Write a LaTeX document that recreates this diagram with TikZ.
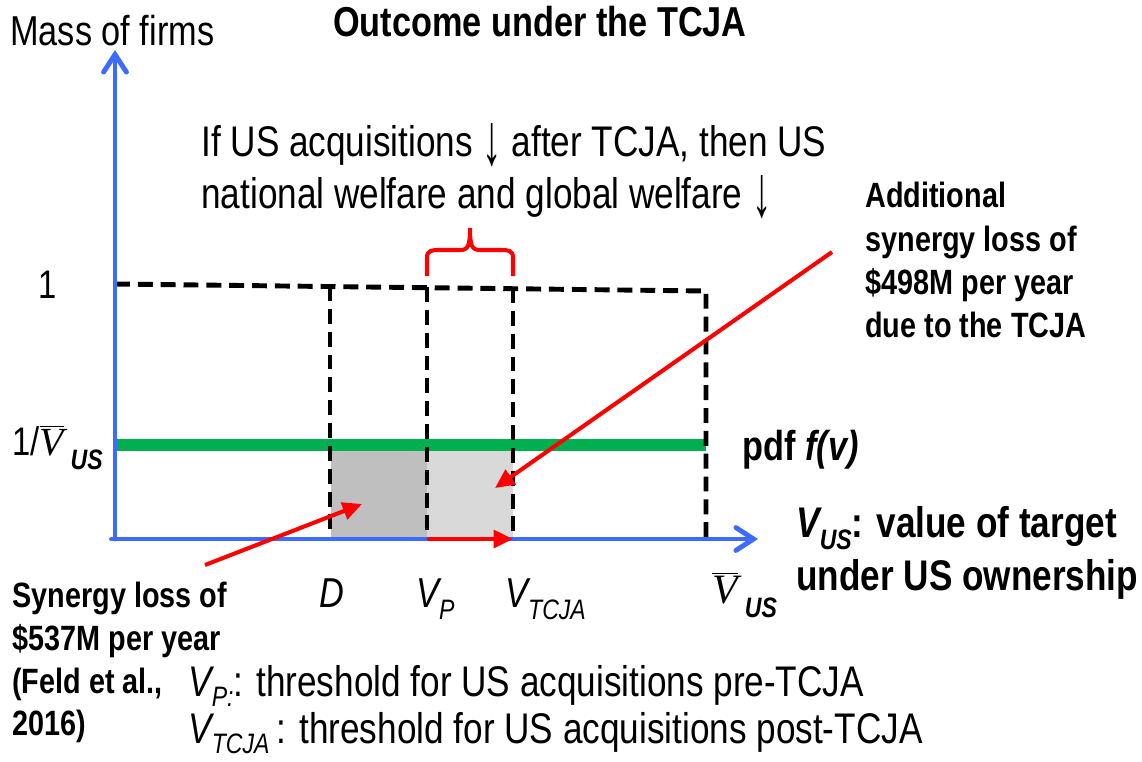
\documentclass[tikz,border=0pt]{standalone}
\usepackage{fontspec}
\setmainfont{Liberation Sans}[FakeStretch=0.82]
\newfontfamily\serifV{Liberation Serif}
\usetikzlibrary{arrows.meta}
\definecolor{axisblue}{RGB}{61,107,255}
\definecolor{pdfgreen}{RGB}{0,176,80}
\definecolor{shadeA}{RGB}{191,191,191}
\definecolor{shadeB}{RGB}{217,217,217}
\newcommand{\Vbar}{$\overline{\mbox{\serifV\itshape V}}$}
\newcommand{\dnarrow}{\raisebox{-0.2em}{\scalebox{1.1}[1.7]{↓}}}
\newcommand{\fsA}{\fontsize{23.8}{28}\selectfont}
\newcommand{\fsB}{\fontsize{24.4}{28}\selectfont}
\newcommand{\fsL}{\fontsize{22.7}{27}\selectfont}
\newcommand{\fsC}{\fontsize{20}{24}\selectfont}
\newcommand{\fsS}{\fontsize{16}{19}\selectfont}
\begin{document}
\begin{tikzpicture}[x=0.02cm,y=-0.02cm,
  txt/.style={inner sep=0pt, anchor=base west},
  axisline/.style={draw=axisblue, line width=2.8pt, line cap=round,
    -{Straight Barb[length=10pt,width=13pt,line cap=round]}},
  dashline/.style={draw=black, line width=2.8pt, dash pattern=on 8.5pt off 4.5pt},
  redarrow/.style={draw=red, line width=2.3pt, -{Triangle[length=11pt,width=10pt]}},
  pdfline/.style={draw=pdfgreen, line width=7pt}]
\useasboundingbox (0,0) rectangle (1142,761);

% key coordinates
\coordinate (O) at (115,539);
\coordinate (ytip) at (115,50);
\coordinate (xtip) at (758,539);
\coordinate (tl) at (115,284);
\coordinate (tr) at (706,291);
\coordinate (br) at (706,539);
\coordinate (dtop) at (330,286);
\coordinate (dbot) at (330,539);
\coordinate (ptop) at (427,287);
\coordinate (pbot) at (427,539);
\coordinate (ttop) at (513,288);
\coordinate (tbot) at (513,539);

% shaded areas
\fill[shadeA] (331,450) rectangle (427,537);
\fill[shadeB] (427,450) rectangle (513,537);

% pdf line
\draw[pdfline] (117,445) -- (706,445);

% dashed lines
\draw[dashline] (tl) -- (tr) -- (br);
\draw[dashline] (dtop) -- (dbot);
\draw[dashline] (ptop) -- (pbot);
\draw[dashline] (ttop) -- (tbot);

% axes
\draw[axisline] (O) -- (ytip);
\draw[axisline] ([xshift=-2pt]O) -- (xtip);

% brace
\draw[red, line width=2.3pt]
  (427,276) -- (427,258) .. controls (427,250) and (432,250) .. (440,250)
  -- (460,250) .. controls (468,250) and (470,246) .. (470,228)
  .. controls (470,246) and (472,250) .. (480,250)
  -- (500,250) .. controls (508,250) and (513,250) .. (513,258) -- (513,276);

% red arrows
\draw[redarrow] (pbot) -- (tbot);
\coordinate (lstart) at (205,565);
\coordinate (lend) at (362,504);
\coordinate (rstart) at (832,252);
\coordinate (rend) at (495,488);
\draw[redarrow] (lstart) -- (lend);
\draw[redarrow] (rstart) -- (rend);

% texts
\node[txt] (mass) at (10,45) {\fsA Mass of firms};
\node[txt, anchor=base] (title) at (540,36) {\fsA\bfseries Outcome under the TCJA};
\node[txt] (if1) at (201,156) {\fsB If US acquisitions \dnarrow{} after TCJA, then US};
\node[txt] (if2) at (201,208) {\fsB national welfare and global welfare \dnarrow};
\node[txt] (one) at (38,298) {\fsL 1};
\node[txt] (inv) at (12,455) {\fsL 1/\Vbar\,\raisebox{-8pt}{\fsS\bfseries\itshape US}};
\node[txt] (pdf) at (742,460) {\fsA\bfseries pdf \itshape f(v)};
\node[txt] (vus1) at (796,537) {\fontsize{24.4}{28}\selectfont\bfseries\itshape V\raisebox{-7pt}{\fsS US}\upshape: value of target};
\node[txt] (vus2) at (796,590) {\fontsize{24.4}{28}\selectfont\bfseries under US ownership};

\node[txt] (D) at (319,607) {\fsA\itshape D};
\node[txt] (VP) at (416,607) {\fsA\itshape V\raisebox{-7pt}{\fsS P}};
\node[txt] (VT) at (505,607) {\fsA\itshape V\raisebox{-7pt}{\fsS TCJA}};
\node[txt] (VU) at (712,603) {\fsA\Vbar\,\raisebox{-8pt}{\fsS\bfseries\itshape US}};

\node[txt] (syn1) at (12,607) {\fsC\bfseries Synergy loss of};
\node[txt] (syn2) at (12,650) {\fsC\bfseries \$537M per year};
\node[txt] (syn3) at (12,693) {\fsC\bfseries (Feld et al.,};
\node[txt] (syn4) at (12,735) {\fsC\bfseries 2016)};

\node[txt] (def1) at (188,696) {\fsB\itshape V\raisebox{-6pt}{\fsS P:}\upshape: threshold for US acquisitions pre-TCJA};
\node[txt] (def2) at (188,743) {\fsB\itshape V\raisebox{-6pt}{\fsS TCJA}\upshape\,: threshold for US acquisitions post-TCJA};

\node[txt] (add1) at (865,207) {\fsC\bfseries Additional};
\node[txt] (add2) at (865,251) {\fsC\bfseries synergy loss of};
\node[txt] (add3) at (865,294) {\fsC\bfseries \$498M per year};
\node[txt] (add4) at (865,337) {\fsC\bfseries due to the TCJA};
\end{tikzpicture}
\end{document}
